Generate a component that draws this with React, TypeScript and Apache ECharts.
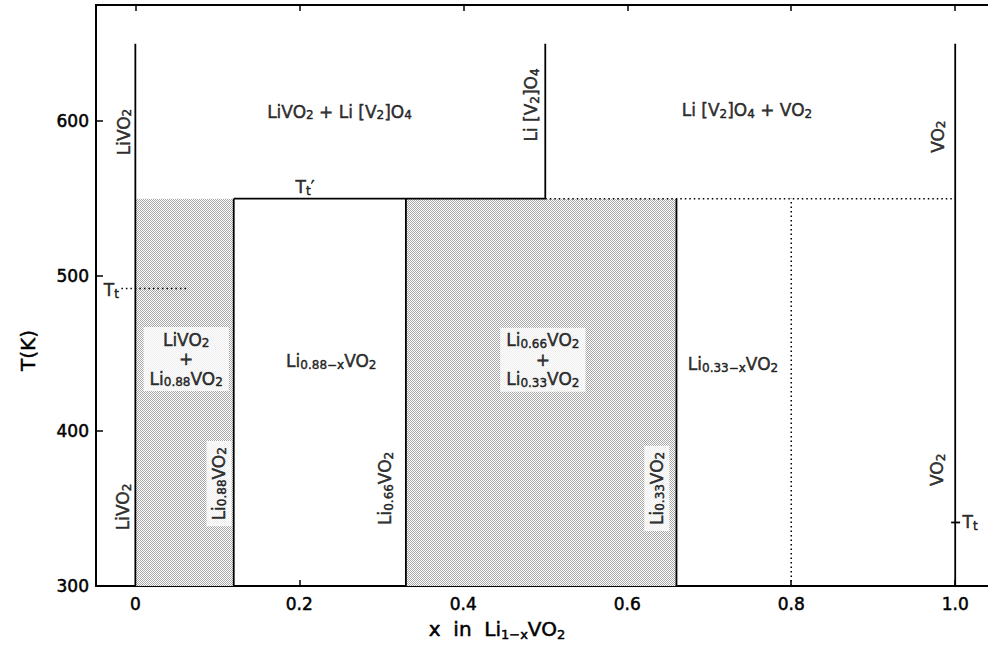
import React, { useEffect, useRef } from 'react';
import * as echarts from 'echarts';

const FONT = 'DejaVu Sans';

// axes
const xTickValues = [0, 0.2, 0.4, 0.6, 0.8, 1.0];
const yTickValues = [300, 400, 500, 600];
const xExtent = [-0.048, 1.04];
const yExtent = [300, 675];

// phase boundaries: [x, T] pairs
const solidBoundaries = [
  [[0, 300], [0, 650]],
  [[0.12, 300], [0.12, 550]],
  [[0.33, 300], [0.33, 550]],
  [[0.66, 300], [0.66, 550]],
  [[1.0, 300], [1.0, 650]],
  [[0.5, 550], [0.5, 650]],
  [[0.12, 550], [0.5, 550]],
  [[0.995, 341], [1.006, 341]],
];
const dottedBoundaries = [
  [[0.5, 550], [1.0, 550]],
  [[0.8, 300], [0.8, 550]],
  [[-0.017, 492], [0.062, 492]],
];
// two-phase (shaded) regions: [x0, x1, T0, T1]
const twoPhaseRegions = [
  [0, 0.12, 300, 550],
  [0.33, 0.66, 300, 550],
];

// phase labels
const labelTexts = [
  '{m|LiVO}{s|2}',
  '{m|LiVO}{s|2}{m| + Li [V}{s|2}{m|]O}{s|4}',
  '{m|T}{s|t}{m|′}',
  '{m|Li [V}{s|2}{m|]O}{s|4}',
  '{m|Li [V}{s|2}{m|]O}{s|4}{m| + VO}{s|2}',
  '{m|VO}{s|2}',
  '{m|T}{s|t}',
  '{m|LiVO}{s|2}\n{p|+}\n{m|Li}{s|0.88}{m|VO}{s|2}',
  '{m|Li}{s|0.88−x}{m|VO}{s|2}',
  '{m|LiVO}{s|2}',
  '{m|Li}{s|0.88}{m|VO}{s|2}',
  '{m|Li}{s|0.66}{m|VO}{s|2}',
  '{m|Li}{s|0.66}{m|VO}{s|2}\n{p|+}\n{m|Li}{s|0.33}{m|VO}{s|2}',
  '{m|Li}{s|0.33}{m|VO}{s|2}',
  '{m|Li}{s|0.33−x}{m|VO}{s|2}',
  '{m|VO}{s|2}',
  '{m|T}{s|t}',
];
const labelX = [-0.014, 0.249, 0.207, 0.483, 0.746, 0.979, -0.02, 0.062, 0.239, -0.015, 0.102, 0.305, 0.497, 0.636, 0.729, 0.978, 1.009];
const labelT = [593, 606, 557.5, 610.5, 607, 590, 491, 446.5, 445, 351, 366, 363, 446, 363, 443, 375, 341];
const rotatedLabels = [0, 3, 5, 9, 10, 11, 13, 15];
const boxedLabels = [7, 10, 12, 13];
const rightAlignedLabels = [6];
const leftAlignedLabels = [16];

const ink = { color: '#000', textBorderColor: '#000', textBorderWidth: 0.5 };
const rich = {
  m: { fontSize: 17, fontFamily: FONT, lineHeight: 19, ...ink },
  s: { fontSize: 12, fontFamily: FONT, lineHeight: 19, verticalAlign: 'top', padding: [7, 0, 0, 0], ...ink },
  p: { fontSize: 17, fontFamily: FONT, lineHeight: 20, ...ink },
};

export default function App() {
  const ref = useRef<HTMLDivElement>(null);
  useEffect(() => {
    if (!ref.current) return;
    const chart = echarts.init(ref.current, null, { renderer: 'svg' });

    const c = document.createElement('canvas');
    c.width = 2;
    c.height = 2;
    const ctx = c.getContext('2d')!;
    ctx.fillStyle = '#ffffff';
    ctx.fillRect(0, 0, 2, 2);
    ctx.fillStyle = '#a6a6a6';
    ctx.fillRect(0, 0, 1, 1);
    ctx.fillRect(1, 1, 1, 1);
    const pattern: any = { image: c, repeat: 'repeat', imageWidth: 2, imageHeight: 2 };

    const lineSeries: any[] = [];
    solidBoundaries.forEach((seg) =>
      lineSeries.push({
        type: 'line', data: seg, symbol: 'none', silent: true, z: 3,
        lineStyle: { color: '#000', width: 1.8, type: 'solid' },
      })
    );
    dottedBoundaries.forEach((seg) =>
      lineSeries.push({
        type: 'line', data: seg, symbol: 'none', silent: true, z: 3,
        lineStyle: { color: '#000', width: 1.5, type: [1.5, 3] },
      })
    );

    const labelData = labelTexts.map((txt, i) => {
      const label: any = { formatter: txt };
      if (rotatedLabels.includes(i)) label.rotate = 90;
      if (boxedLabels.includes(i)) {
        label.backgroundColor = '#fff';
        label.padding = [3, 6];
      }
      if (rightAlignedLabels.includes(i)) label.align = 'right';
      if (leftAlignedLabels.includes(i)) label.align = 'left';
      return { value: [labelX[i], labelT[i]], label };
    });

    const axisFont = { fontFamily: FONT, fontSize: 17, color: '#000', textBorderColor: '#000', textBorderWidth: 0.5 };

    chart.setOption({
      animation: false,
      grid: { left: 96, right: 0, top: 5, bottom: 63, containLabel: false },
      xAxis: [
        {
          type: 'value', min: xExtent[0], max: xExtent[1], position: 'bottom',
          axisLine: { show: true, onZero: false, lineStyle: { color: '#000', width: 2 } },
          axisTick: { show: true, inside: true, length: 6, customValues: xTickValues, lineStyle: { color: '#000', width: 1.5 } },
          axisLabel: {
            show: true, customValues: xTickValues, margin: 9, ...axisFont,
            formatter: (v: number) => (v === 0 ? '0' : v.toFixed(1)),
          },
          splitLine: { show: false },
          name: '{tm|x  in  Li}{ts|1−x}{tm|VO}{ts|2}',
          nameLocation: 'middle',
          nameGap: 32,
          nameTextStyle: {
            padding: [0, 90, 0, 0],
            rich: {
              tm: { fontSize: 20, fontFamily: FONT, lineHeight: 22, ...ink },
              ts: { fontSize: 13, fontFamily: FONT, lineHeight: 22, verticalAlign: 'top', padding: [10, 0, 0, 0], ...ink },
            },
          },
        },
        {
          type: 'value', min: xExtent[0], max: xExtent[1], position: 'top',
          axisLine: { show: true, onZero: false, lineStyle: { color: '#000', width: 2 } },
          axisTick: { show: true, inside: true, length: 6, customValues: xTickValues, lineStyle: { color: '#000', width: 1.5 } },
          axisLabel: { show: false },
          splitLine: { show: false },
        },
      ],
      yAxis: {
        type: 'value', min: yExtent[0], max: yExtent[1],
        axisLine: { show: true, onZero: false, lineStyle: { color: '#000', width: 2 } },
        axisTick: { show: true, inside: true, length: 7, customValues: yTickValues, lineStyle: { color: '#000', width: 1.5 } },
        axisLabel: { show: true, customValues: yTickValues, margin: 7, ...axisFont },
        splitLine: { show: false },
        name: 'T(K)',
        nameLocation: 'middle',
        nameGap: 58,
        nameTextStyle: {
          fontFamily: FONT, fontSize: 20, color: '#000', textBorderColor: '#000', textBorderWidth: 0.5,
          padding: [0, 110, 0, 0],
        },
      },
      series: [
        {
          type: 'custom',
          z: 1,
          silent: true,
          data: twoPhaseRegions,
          encode: { x: [0, 1], y: [2, 3] },
          renderItem: (params: any, api: any) => {
            const p0 = api.coord([api.value(0), api.value(3)]);
            const p1 = api.coord([api.value(1), api.value(2)]);
            return {
              type: 'rect',
              shape: { x: p0[0], y: p0[1], width: p1[0] - p0[0], height: p1[1] - p0[1] },
              style: { fill: pattern, stroke: null },
            };
          },
        },
        ...lineSeries,
        {
          type: 'scatter',
          z: 5,
          silent: true,
          symbolSize: 0,
          data: labelData,
          label: {
            show: true,
            position: 'inside',
            fontFamily: FONT,
            fontSize: 17,
            color: '#000',
            rich,
          },
        },
      ],
    });
    return () => chart.dispose();
  }, []);
  return (
    <div
      ref={ref}
      style={{ position: 'fixed', left: 0, top: 0, width: 988, height: 649, background: '#fff' }}
    />
  );
}
